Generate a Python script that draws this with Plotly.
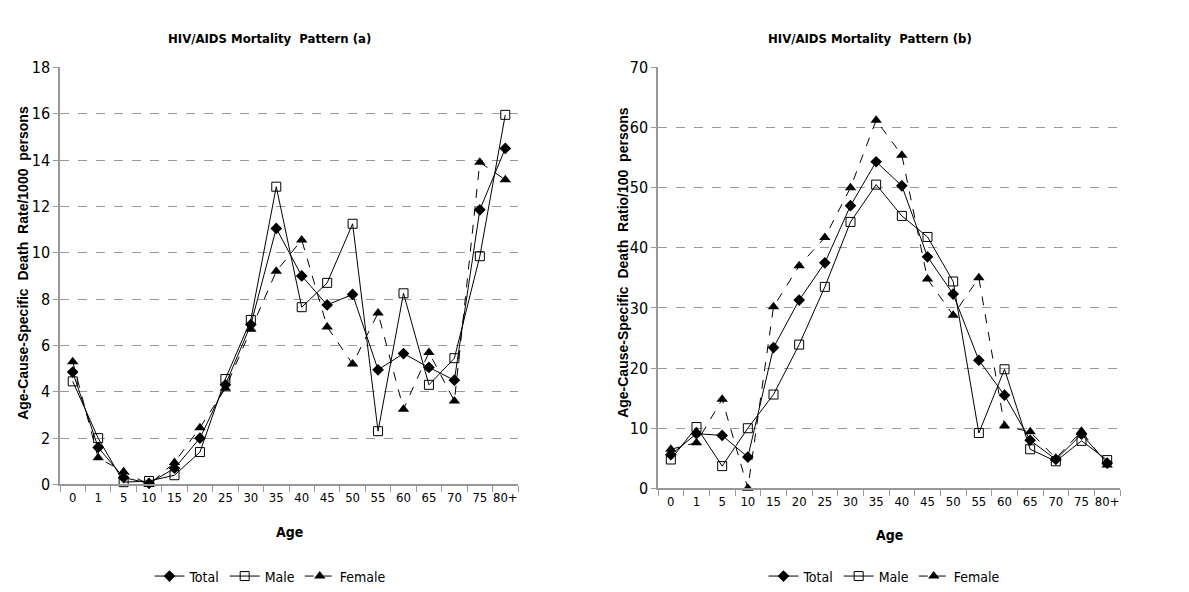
import plotly.graph_objects as go

ages = ["0", "1", "5", "10", "15", "20", "25", "30", "35", "40", "45", "50", "55", "60", "65", "70", "75", "80+"]

# Panel (a): Age-cause-specific death rate per 1000 persons
a_total = [4.85, 1.6, 0.3, 0.05, 0.7, 2.0, 4.3, 6.9, 11.05, 9.0, 7.75, 8.2, 4.95, 5.65, 5.05, 4.5, 11.85, 14.5]
a_male = [4.45, 2.0, 0.1, 0.15, 0.4, 1.4, 4.55, 7.1, 12.85, 7.65, 8.7, 11.25, 2.3, 8.25, 4.3, 5.45, 9.85, 15.95]
a_female = [5.3, 1.15, 0.55, 0.0, 0.95, 2.45, 4.15, 6.7, 9.2, 10.55, 6.8, 5.2, 7.4, 3.25, 5.7, 3.6, 13.9, 13.15]

# Panel (b): Age-cause-specific death ratio per 100 persons
b_total = [5.6, 9.1, 8.8, 5.2, 23.4, 31.3, 37.5, 47.0, 54.3, 50.3, 38.5, 32.3, 21.3, 15.5, 8.0, 4.8, 9.0, 4.2]
b_male = [4.8, 10.2, 3.7, 10.0, 15.6, 23.9, 33.5, 44.3, 50.5, 45.3, 41.8, 34.4, 9.2, 19.8, 6.5, 4.5, 7.9, 4.7]
b_female = [6.5, 7.6, 14.8, 0.0, 30.2, 37.0, 41.7, 50.0, 61.2, 55.4, 34.8, 28.8, 35.0, 10.4, 9.4, 5.0, 9.5, 3.9]

W, H = 1189, 592
NARROW = "DejaVu Sans Condensed, Liberation Sans Narrow, Arial Narrow, Roboto, sans-serif"
BOLD = "Liberation Sans, Arial, sans-serif"

def px(x):
    return x / W

def py(y):
    return 1 - y / H

fig = go.Figure()

series_style = [
    ("Total", dict(symbol="diamond", size=9, color="black"), "solid"),
    ("Male", dict(symbol="square-open", size=9, color="black", line=dict(width=1)), "solid"),
    ("Female", dict(symbol="triangle-up", size=10, color="black"), "dash"),
]

for panel, data, xa, ya, leg in [
    ("a", [a_total, a_male, a_female], "x", "y", "legend"),
    ("b", [b_total, b_male, b_female], "x2", "y2", "legend2"),
]:
    for (name, marker, dash), vals in zip(series_style, data):
        fig.add_trace(go.Scatter(
            x=ages, y=vals, name=name, mode="lines+markers",
            line=dict(color="black", width=1, dash=dash),
            marker=marker, xaxis=xa, yaxis=ya, legend=leg, cliponaxis=False,
        ))

axis_common = dict(
    type="category", showgrid=False, showline=True, linecolor="#999999", linewidth=1.5,
    ticks="outside", tickson="boundaries", ticklen=6, tickcolor="#999999", tickangle=0,
    tickfont=dict(family=NARROW, size=13, color="black"), zeroline=False,
)
yaxis_common = dict(
    showgrid=True, gridcolor="#999999", griddash="dash", gridwidth=1,
    showline=True, linecolor="#999999", linewidth=1.5, ticks="outside", ticklen=5,
    tickcolor="#999999", tickfont=dict(family=NARROW, size=16, color="black"),
    zeroline=False,
)

fig.update_layout(
    width=W, height=H, paper_bgcolor="white", plot_bgcolor="white",
    margin=dict(l=0, r=0, t=0, b=0), showlegend=True,
    xaxis=dict(domain=[px(52), px(510)], anchor="y", range=[-0.5, 17.5], **axis_common),
    yaxis=dict(domain=[py(483), py(52)], anchor="x", range=[0, 18], dtick=2, **yaxis_common),
    xaxis2=dict(domain=[px(650), px(1112)], anchor="y2", range=[-0.5, 17.5], **axis_common),
    yaxis2=dict(domain=[py(487), py(52)], anchor="x2", range=[0, 70], dtick=10, **yaxis_common),
    legend=dict(orientation="h", x=px(262), y=py(578), xanchor="center", yanchor="middle",
                font=dict(family=NARROW, size=14, color="black"), itemwidth=30,
                tracegroupgap=0, bgcolor="rgba(0,0,0,0)"),
    legend2=dict(orientation="h", x=px(876), y=py(578), xanchor="center", yanchor="middle",
                 font=dict(family=NARROW, size=14, color="black"), itemwidth=30,
                 tracegroupgap=0, bgcolor="rgba(0,0,0,0)"),
)

annotations = [
    dict(text="<b>HIV/AIDS Mortality  Pattern (a)</b>", x=px(261), y=py(22)),
    dict(text="<b>HIV/AIDS Mortality  Pattern (b)</b>", x=px(862), y=py(22)),
    dict(text="<b>Age</b>", x=px(281), y=py(532), size=14),
    dict(text="<b>Age</b>", x=px(881), y=py(535), size=14),
]
for a in annotations:
    fig.add_annotation(text=a["text"], x=a["x"], y=a["y"], xref="paper", yref="paper",
                       showarrow=False, xanchor="center", yanchor="middle",
                       font=dict(family=NARROW, size=a.get("size", 13), color="black"))

fig.add_annotation(text="<b>Age-Cause-Specific  Death  Rate/1000  persons</b>", x=px(15), y=py(254),
                   xref="paper", yref="paper", showarrow=False, textangle=-90,
                   xanchor="center", yanchor="middle",
                   font=dict(family=BOLD, size=14, color="black"))
fig.add_annotation(text="<b>Age-Cause-Specific  Death  Ratio/100  persons</b>", x=px(615), y=py(254),
                   xref="paper", yref="paper", showarrow=False, textangle=-90,
                   xanchor="center", yanchor="middle",
                   font=dict(family=BOLD, size=14, color="black"))

fig.write_html("out.html")
